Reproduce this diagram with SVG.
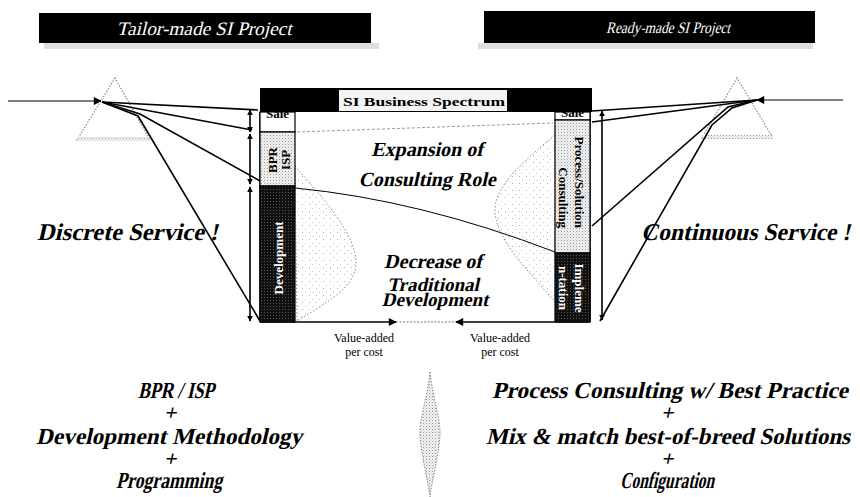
<svg xmlns="http://www.w3.org/2000/svg" width="860" height="497" viewBox="0 0 860 497">
  <style>
    /* slanted headings: upright serif face sheared with skewX */
    .bi { font-family: "Liberation Serif", "Times New Roman", serif; font-weight: bold; fill: #000; }
    .tb { font-family: "Liberation Serif", "Times New Roman", serif; fill: #fff; }
    .col { font-family: "Liberation Serif", "Times New Roman", serif; font-weight: bold; font-size: 13px; }
    .va { font-family: "Liberation Serif", "Times New Roman", serif; font-size: 12px; fill: #000; text-anchor: middle; }
    .ray { fill: none; stroke: #000; stroke-width: 1.6; }
    .thin { fill: none; stroke: #000; stroke-width: 1; }
    .dim { fill: none; stroke: #000; stroke-width: 1.6; marker-start: url(#ah); marker-end: url(#ah); }
    .prism { fill: none; stroke: #8a8a8a; stroke-width: 1.2; stroke-dasharray: 1.5 1.5; }
    .bell { fill: url(#sparse); stroke: #8a8a8a; stroke-width: 1; stroke-dasharray: 1.5 2; }
  </style>
  <defs>
    <marker id="ah" viewBox="0 0 10 10" refX="9" refY="5" markerWidth="6" markerHeight="6" markerUnits="userSpaceOnUse" orient="auto-start-reverse">
      <path d="M0,0 L10,5 L0,10 Z" fill="#000"/>
    </marker>
    <marker id="ahBig" viewBox="0 0 10 10" refX="9" refY="5" markerWidth="9" markerHeight="8" markerUnits="userSpaceOnUse" orient="auto">
      <path d="M0,0 L10,5 L0,10 Z" fill="#000"/>
    </marker>
    <pattern id="stip" width="3" height="3" patternUnits="userSpaceOnUse">
      <rect width="3" height="3" fill="#f2f2f2"/>
      <rect x="0" y="0" width="1" height="1" fill="#9a9a9a"/>
      <rect x="1.5" y="1.5" width="1" height="1" fill="#c4c4c4"/>
    </pattern>
    <pattern id="sparse" width="7" height="7" patternUnits="userSpaceOnUse">
      <rect width="7" height="7" fill="#fff"/>
      <rect x="1" y="1" width="1" height="1" fill="#b0b0b0"/>
      <rect x="4" y="5" width="1" height="1" fill="#c8c8c8"/>
    </pattern>
    <pattern id="darkstip" width="3" height="3" patternUnits="userSpaceOnUse">
      <rect width="3" height="3" fill="#111"/>
      <rect x="0" y="0" width="1" height="1" fill="#555"/>
    </pattern>
  </defs>

  <!-- project banners -->
  <g id="tailor-made">
    <rect x="44" y="43" width="335" height="6" fill="#d0d0d0" opacity="0.7"/>
    <rect x="39" y="13" width="332" height="30" fill="#000"/>
    <text class="tb" transform="translate(204,35) skewX(-14)" text-anchor="middle" font-size="19" textLength="175" lengthAdjust="spacingAndGlyphs">Tailor-made SI Project</text>
  </g>
  <g id="ready-made">
    <rect x="478" y="43" width="335" height="6" fill="#d0d0d0" opacity="0.7"/>
    <rect x="484" y="11" width="331" height="32" fill="#000"/>
    <text class="tb" transform="translate(668,33) skewX(-14)" text-anchor="middle" font-size="16" textLength="124" lengthAdjust="spacingAndGlyphs">Ready-made SI Project</text>
  </g>

  <!-- prisms -->
  <g id="prism-left">
    <path class="prism" d="M115,78 L77,140 L150,140 Z"/>
    <rect x="78" y="137" width="71" height="4" fill="url(#stip)"/>
  </g>
  <g id="prism-right">
    <path class="prism" d="M737,78 L702,138 L773,138 Z"/>
    <rect x="703" y="135" width="70" height="4" fill="url(#stip)"/>
  </g>

  <!-- bell-shaped value curves inside the spectrum -->
  <g id="bell-left">
    <path class="bell" d="M295,166 C320,195 358,235 356,265 C354,290 320,306 297,321 Z"/>
  </g>
  <g id="bell-right">
    <path class="bell" d="M555,135 C525,160 495,185 495,210 C495,240 530,272 555,302 Z"/>
  </g>

  <!-- light rays and dimension lines -->
  <g id="connectors">
    <line class="thin" x1="8" y1="101" x2="101" y2="101" marker-end="url(#ahBig)"/>
    <line class="thin" x1="843" y1="100" x2="757" y2="100" marker-end="url(#ahBig)"/>

    <path class="ray" d="M102,102 L258,110"/>
    <path class="ray" d="M102,102 L252,130"/>
    <path class="ray" d="M102,102 L140,114 L262,182"/>
    <path class="ray" d="M102,102 L138,116 L260,321"/>
    <path class="thin" d="M295,188 Q420,200 555,252"/>

    <path class="ray" d="M757,100 L592,111"/>
    <path class="ray" d="M757,100 L592,122"/>
    <path class="ray" d="M757,100 L728,107 L592,226"/>
    <path class="ray" d="M757,100 L732,108 L712,125 L600,321"/>

    <line class="dim" x1="250" y1="110" x2="250" y2="132"/>
    <line class="dim" x1="250" y1="134" x2="250" y2="184"/>
    <line class="dim" x1="250" y1="187" x2="250" y2="321"/>
    <line class="dim" x1="602" y1="111" x2="602" y2="320"/>

    <line class="ray" x1="260" y1="322" x2="396" y2="322" marker-end="url(#ahBig)"/>
    <line x1="396" y1="322" x2="456" y2="322" stroke="#777" stroke-width="1.2" stroke-dasharray="2 1.5"/>
    <line class="ray" x1="590" y1="322" x2="456" y2="322" marker-end="url(#ahBig)"/>
  </g>

  <!-- SI business spectrum box -->
  <g id="spectrum">
    <line x1="297" y1="132" x2="553" y2="123" stroke="#999" stroke-width="1" stroke-dasharray="3 2"/>
    <line x1="260" y1="112" x2="260" y2="322" stroke="#000" stroke-width="1.5"/>
    <line x1="590" y1="112" x2="590" y2="322" stroke="#000" stroke-width="1.5"/>

    <!-- left column -->
    <rect x="260" y="112" width="35" height="20" fill="#fff" stroke="#000" stroke-width="1.2"/>
    <text class="col" x="277.5" y="118" text-anchor="middle" font-size="13">Sale</text>
    <rect x="260" y="132" width="35" height="54" fill="url(#stip)" stroke="#000" stroke-width="1.2"/>
    <text class="col" transform="translate(277,160) rotate(-90)" text-anchor="middle">BPR</text>
    <text class="col" transform="translate(290,160) rotate(-90)" text-anchor="middle">ISP</text>
    <rect x="260" y="186" width="35" height="136" fill="url(#darkstip)" stroke="#000" stroke-width="1.2"/>
    <text class="col" transform="translate(283,258) rotate(-90)" text-anchor="middle" fill="#fff" font-size="17">Development</text>

    <!-- right column -->
    <rect x="555" y="112" width="35" height="8" fill="#fff" stroke="#000" stroke-width="1.2"/>
    <text class="col" x="572.5" y="117" text-anchor="middle" font-size="12">Sale</text>
    <rect x="555" y="120" width="35" height="133" fill="url(#stip)" stroke="#000" stroke-width="1.2"/>
    <text class="col" transform="translate(575,228) rotate(90)" text-anchor="end" font-size="15.5">Process/Solution</text>
    <text class="col" transform="translate(559,228) rotate(90)" text-anchor="end" font-size="15.5">Consulting</text>
    <rect x="555" y="253" width="35" height="69" fill="url(#darkstip)" stroke="#000" stroke-width="1.2"/>
    <text class="col" transform="translate(575,288) rotate(90)" text-anchor="middle" fill="#fff" font-size="15.5">Impleme</text>
    <text class="col" transform="translate(559,288) rotate(90)" text-anchor="middle" fill="#fff" font-size="15.5">n-tation</text>

    <!-- header -->
    <rect x="260" y="88" width="332" height="24" fill="#000"/>
    <rect x="339" y="90" width="168" height="21" fill="#f4f4f4"/>
    <text class="col" x="424" y="106" text-anchor="middle" font-size="17.5" fill="#000" textLength="162" lengthAdjust="spacingAndGlyphs">SI Business Spectrum</text>

    <text class="bi" transform="translate(427,156) skewX(-13)" text-anchor="middle" font-size="20">Expansion of</text>
    <text class="bi" transform="translate(427,186) skewX(-13)" text-anchor="middle" font-size="20">Consulting Role</text>
    <text class="bi" transform="translate(433,268) skewX(-13)" text-anchor="middle" font-size="20">Decrease of</text>
    <text class="bi" transform="translate(433,291) skewX(-13)" text-anchor="middle" font-size="19">Traditional</text>
    <text class="bi" transform="translate(435,306) skewX(-13)" text-anchor="middle" font-size="19">Development</text>

    <text class="va" x="364" y="342">Value-added</text>
    <text class="va" x="364" y="356">per cost</text>
    <text class="va" x="500" y="342">Value-added</text>
    <text class="va" x="500" y="356">per cost</text>
  </g>

  <!-- service labels -->
  <g id="discrete">
    <text class="bi" transform="translate(37,240) skewX(-13)" font-size="24" textLength="181" lengthAdjust="spacingAndGlyphs">Discrete Service !</text>
  </g>
  <g id="continuous">
    <text class="bi" transform="translate(641,240) skewX(-13)" font-size="24" textLength="209" lengthAdjust="spacingAndGlyphs">Continuous Service !</text>
  </g>

  <!-- approach summaries -->
  <g id="tailor-approach">
    <text class="bi" transform="translate(176,398) skewX(-13)" text-anchor="middle" font-size="23" textLength="76" lengthAdjust="spacingAndGlyphs">BPR / ISP</text>
    <text class="bi" transform="translate(170,420) skewX(-13)" text-anchor="middle" font-size="22">+</text>
    <text class="bi" transform="translate(169,444) skewX(-13)" text-anchor="middle" font-size="23" textLength="266" lengthAdjust="spacingAndGlyphs">Development Methodology</text>
    <text class="bi" transform="translate(170,466) skewX(-13)" text-anchor="middle" font-size="22">+</text>
    <text class="bi" transform="translate(169,488) skewX(-13)" text-anchor="middle" font-size="23" textLength="106" lengthAdjust="spacingAndGlyphs">Programming</text>
  </g>
  <g id="divider">
    <path d="M430,372 C433,400 441,420 440,435 C439,455 432,480 430,497 C428,480 421,455 420,435 C419,420 427,400 430,372 Z" fill="url(#stip)" stroke="#8a8a8a" stroke-width="1" stroke-dasharray="1.5 1.5"/>
  </g>
  <g id="ready-approach">
    <text class="bi" transform="translate(670,398) skewX(-13)" text-anchor="middle" font-size="23" textLength="356" lengthAdjust="spacingAndGlyphs">Process Consulting w/ Best Practice</text>
    <text class="bi" transform="translate(667,420) skewX(-13)" text-anchor="middle" font-size="22">+</text>
    <text class="bi" transform="translate(668,444) skewX(-13)" text-anchor="middle" font-size="23" textLength="364" lengthAdjust="spacingAndGlyphs">Mix &amp; match best-of-breed Solutions</text>
    <text class="bi" transform="translate(667,466) skewX(-13)" text-anchor="middle" font-size="22">+</text>
    <text class="bi" transform="translate(667,488) skewX(-13)" text-anchor="middle" font-size="23" textLength="94" lengthAdjust="spacingAndGlyphs">Configuration</text>
  </g>
</svg>
